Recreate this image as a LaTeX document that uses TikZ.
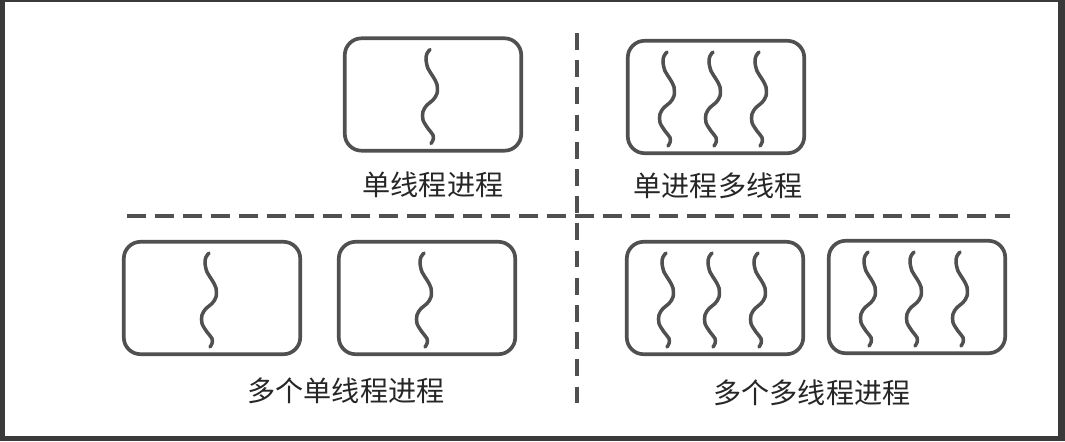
\documentclass[tikz,border=0pt]{standalone}
\usepackage{fontspec}
\usetikzlibrary{positioning}
\newfontfamily\cjk{Noto Sans CJK SC}
\definecolor{marco}{RGB}{58,58,58}
\definecolor{trazo}{RGB}{80,80,80}
\tikzset{
  proc/.style={rectangle, rounded corners=0.42cm, minimum width=4.41cm, minimum height=2.81cm, draw=trazo, line width=2.6pt},
  rotulo/.style={font=\cjk\fontsize{20}{24}\selectfont, text=black!85, inner sep=0pt},
  divh/.style={draw=trazo, line width=2.8pt, dash pattern=on 0.48cm off 0.22cm},
  divv/.style={draw=trazo, line width=2.8pt, dash pattern=on 0.42cm off 0.26cm},
  thread/.pic={\draw[trazo, line width=2.5pt, line cap=round] plot[smooth, tension=0.55] coordinates {(-3,-45) (-6,-41) (-7,-35) (-5,-26) (0,-18) (4,-10) (4,-1) (0,5.5) (-6,10.5) (-10,17) (-10,25.5) (-5,34) (0,40.5) (0,45.5) (-2,49)};}
}
\begin{document}
\begin{tikzpicture}[x=0.025cm, y=-0.025cm]
  \useasboundingbox (0,0) rectangle (1065,441);
  % marco de la captura
  \fill[marco] (0,0) rectangle (1065,441);
  \fill[white] (5,2) rectangle (1058,436);
  % lineas divisorias
  \coordinate (hizq) at (127,216);
  \coordinate (hder) at (1010,216);
  \coordinate (varr) at (577,33);
  \coordinate (vab) at (577,412);
  \draw [divh] (hizq) -- (hder);
  \draw [divv] (varr) -- (vab);
  % arriba izquierda: un proceso, un hilo
  \node (p1) [proc] at (433,94.5) {};
  \pic at (p1.center) {thread};
  \node (t1) [rotulo] at (433,185) {单线程进程};
  % arriba derecha: un proceso, tres hilos
  \node (p2) [proc] at (716,97) {};
  \foreach \dx in {-46,0,46} \pic at ([xshift=\dx*0.025cm]p2.center) {thread};
  \node (t2) [rotulo] at (718,186) {单进程多线程};
  % abajo izquierda: dos procesos de un hilo
  \node (p3) [proc] at (212,298) {};
  \node (p4) [proc] at (427,298) {};
  \pic at (p3.center) {thread};
  \pic at (p4.center) {thread};
  \node (t3) [rotulo] at (346,391) {多个单线程进程};
  % abajo derecha: dos procesos de tres hilos
  \node (p5) [proc] at (715,298) {};
  \node (p6) [proc] at (917,297) {};
  \foreach \dx in {-46,0,46} {
    \pic at ([xshift=\dx*0.025cm]p5.center) {thread};
    \pic at ([xshift=\dx*0.025cm]p6.center) {thread};
  }
  \node (t4) [rotulo] at (812,393) {多个多线程进程};
\end{tikzpicture}
\end{document}
